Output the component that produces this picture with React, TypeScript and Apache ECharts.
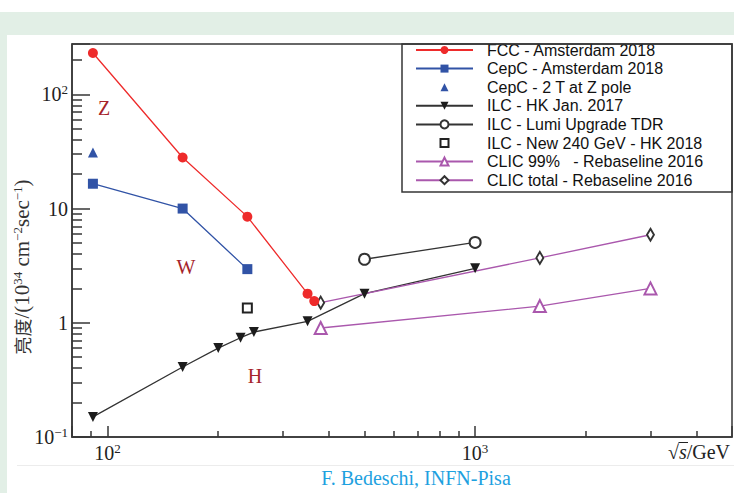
import React, { useEffect, useRef } from 'react';
import * as echarts from 'echarts';

// ---------- data ----------
const fccX = [91.2, 160, 240, 350, 365];
const fccY = [230, 28, 8.5, 1.8, 1.55];
const cepcX = [91.2, 160, 240];
const cepcY = [16.5, 10, 2.95];
const cepc2TX = [91.2];
const cepc2TY = [31];
const ilcX = [91.2, 160, 200, 230, 250, 350, 500, 1000];
const ilcY = [0.15, 0.41, 0.6, 0.74, 0.83, 1.03, 1.8, 3.0];
const ilcLumiX = [500, 1000];
const ilcLumiY = [3.6, 5.05];
const ilc240X = [240];
const ilc240Y = [1.35];
const clic99X = [380, 1500, 3000];
const clic99Y = [0.9, 1.4, 2.0];
const clicTotX = [380, 1500, 3000];
const clicTotY = [1.5, 3.7, 5.9];

const seriesNames = [
  'FCC - Amsterdam 2018',
  'CepC - Amsterdam 2018',
  'CepC - 2 T at Z pole',
  'ILC - HK Jan. 2017',
  'ILC - Lumi Upgrade TDR',
  'ILC - New 240 GeV - HK 2018',
  'CLIC 99%   - Rebaseline 2016',
  'CLIC total - Rebaseline 2016',
];

const xTickValues = [100, 1000];
const xTickLabels = ['{b|10}{s|2}', '{b|10}{s|3}'];
const yTickValues = [0.1, 1, 10, 100];
const yTickLabels = ['{b|10}{s|\u22121}', '{b|1}', '{b|10}', '{b|10}{s|2}'];

const regionLabels = ['Z', 'W', 'H'];

const zip = (xs: number[], ys: number[]) => xs.map((x, i) => [x, ys[i]]);

const RED = '#ee2b2b';
const BLUE = '#3153a6';
const BLACK = '#1c1c1c';
const PURPLE = '#aa58ad';
const AX = '#363636';
const DARKRED = '#a6242b';
const SERIF = '"Liberation Serif", "DejaVu Serif", serif';
const SANS = '"Liberation Sans", Arial, sans-serif';

const labelFor = (vals: number[], labels: string[]) => (v: number) => {
  const i = vals.findIndex((t) => Math.abs(Math.log10(v) - Math.log10(t)) < 1e-6);
  return i >= 0 ? labels[i] : '';
};

const richTick = {
  b: { fontFamily: SERIF, fontSize: 20, color: '#222', lineHeight: 22 },
  s: { fontFamily: SERIF, fontSize: 13, color: '#222', verticalAlign: 'top' as const, lineHeight: 14 },
};

const noLine = { width: 0, opacity: 0 };

export default function App() {
  const ref = useRef<HTMLDivElement>(null);
  useEffect(() => {
    if (!ref.current) return;
    const chart = echarts.init(ref.current, null, { renderer: 'svg' });
    const lw = 1.3;
    const option: any = {
      animation: false,
      backgroundColor: 'transparent',
      grid: {
        left: 72, right: 2, top: 44, bottom: 56,
        show: true, borderColor: AX, borderWidth: 1.5,
        containLabel: false, outerBoundsMode: 'none',
      },
      legend: {
        orient: 'vertical', left: 415, top: 42, padding: 0,
        itemWidth: 57, itemHeight: 10, itemGap: 2.6,
        selectedMode: false,
        textStyle: { fontFamily: SANS, fontSize: 16, color: '#111', padding: [0, 0, 0, 9] },
        data: seriesNames,
      },
      xAxis: {
        type: 'log', logBase: 10, min: 80, max: 5000,
        axisLine: { show: true, lineStyle: { color: AX, width: 1.5 } },
        axisTick: { show: true, inside: true, length: 11, lineStyle: { color: AX, width: 1.5 } },
        minorTick: { show: true, splitNumber: 9, length: 6, lineStyle: { color: AX, width: 1.5 } },
        splitLine: { show: false }, minorSplitLine: { show: false },
        axisLabel: {
          margin: 5, fontFamily: SERIF, fontSize: 20, color: '#222',
          formatter: labelFor(xTickValues, xTickLabels), rich: richTick,
        },
      },
      yAxis: {
        type: 'log', logBase: 10, min: 0.1, max: 276,
        axisLine: { show: true, lineStyle: { color: AX, width: 1.5 } },
        axisTick: { show: true, inside: true, length: 18, lineStyle: { color: AX, width: 1.5 } },
        minorTick: { show: true, splitNumber: 9, length: 10, lineStyle: { color: AX, width: 1.5 } },
        splitLine: { show: false }, minorSplitLine: { show: false },
        axisLabel: {
          margin: 4, fontFamily: SERIF, fontSize: 20, color: '#222', showMinLabel: true,
          formatter: labelFor(yTickValues, yTickLabels), rich: richTick,
        },
      },
      series: [
        {
          name: seriesNames[0], type: 'line', data: zip(fccX, fccY), z: 6,
          symbol: 'circle', symbolSize: 10,
          itemStyle: { color: RED }, lineStyle: { color: RED, width: lw },
        },
        {
          name: seriesNames[1], type: 'line', data: zip(cepcX, cepcY),
          symbol: 'rect', symbolSize: 10,
          itemStyle: { color: BLUE }, lineStyle: { color: BLUE, width: lw },
        },
        {
          name: seriesNames[2], type: 'line', data: zip(cepc2TX, cepc2TY),
          symbol: 'triangle', symbolSize: 10, showSymbol: true,
          itemStyle: { color: BLUE }, lineStyle: noLine,
        },
        {
          name: seriesNames[3], type: 'line', data: zip(ilcX, ilcY),
          symbol: 'triangle', symbolRotate: 180, symbolSize: 10,
          itemStyle: { color: BLACK }, lineStyle: { color: '#333', width: lw },
        },
        {
          name: seriesNames[4], type: 'line', data: zip(ilcLumiX, ilcLumiY),
          symbol: 'emptyCircle', symbolSize: 11,
          itemStyle: { color: '#333', borderWidth: 1.3 }, lineStyle: { color: '#333', width: lw },
        },
        {
          name: seriesNames[5], type: 'line', data: zip(ilc240X, ilc240Y),
          symbol: 'emptyRect', symbolSize: 9, showSymbol: true,
          itemStyle: { color: '#222', borderWidth: 1.6 }, lineStyle: noLine,
        },
        {
          name: seriesNames[6], type: 'line', data: zip(clic99X, clic99Y),
          symbol: 'emptyTriangle', symbolSize: 12,
          itemStyle: { color: PURPLE, borderWidth: 1.5 }, lineStyle: { color: PURPLE, width: lw },
        },
        {
          name: seriesNames[7], type: 'line', data: zip(clicTotX, clicTotY),
          symbol: 'emptyDiamond', symbolSize: [7, 12],
          itemStyle: { color: '#333', borderWidth: 1.3 }, lineStyle: { color: PURPLE, width: lw },
        },
      ],
      graphic: [
        {
          type: 'rect', silent: true, z: 10,
          shape: { x: 402, y: 44, width: 330, height: 148 },
          style: { fill: 'none', stroke: AX, lineWidth: 1.5 },
        },
        {
          type: 'text', x: 104, y: 108, silent: true,
          style: { text: regionLabels[0], font: `20px ${SERIF}`, fill: DARKRED, align: 'center', verticalAlign: 'middle' },
        },
        {
          type: 'text', x: 186, y: 267, silent: true,
          style: { text: regionLabels[1], font: `20px ${SERIF}`, fill: DARKRED, align: 'center', verticalAlign: 'middle' },
        },
        {
          type: 'text', x: 255, y: 376, silent: true,
          style: { text: regionLabels[2], font: `20px ${SERIF}`, fill: DARKRED, align: 'center', verticalAlign: 'middle' },
        },
        {
          type: 'text', x: 22, y: 267, rotation: Math.PI / 2, silent: true,
          style: {
            text: '{c|亮度}{r|/(10}{s|34}{r| cm}{s|\u22122}{r|sec}{s|\u22121}{r|)}',
            align: 'center', verticalAlign: 'middle',
            rich: {
              c: { fontFamily: '"Noto Sans CJK SC", sans-serif', fontSize: 18, fill: '#333', lineHeight: 22 },
              r: { fontFamily: SERIF, fontSize: 21, fill: '#333', lineHeight: 22 },
              s: { fontFamily: SERIF, fontSize: 13, fill: '#333', verticalAlign: 'top', lineHeight: 14 },
            },
          },
        },
        {
          type: 'text', x: 730, y: 452, silent: true,
          style: {
            text: '{r|\u221A}{i|s}{r|/GeV}',
            align: 'right', verticalAlign: 'middle',
            rich: {
              r: { fontFamily: SERIF, fontSize: 20, fill: '#222' },
              i: { fontFamily: SERIF, fontSize: 20, fontStyle: 'italic', fill: '#222' },
            },
          },
        },
        {
          type: 'line', silent: true,
          shape: { x1: 678.5, y1: 442.5, x2: 688, y2: 442.5 },
          style: { stroke: '#222', lineWidth: 1 },
        },
        {
          type: 'text', x: 416, y: 478, silent: true,
          style: { text: 'F. Bedeschi, INFN-Pisa', font: `20px ${SERIF}`, fill: '#1ea1df', align: 'center', verticalAlign: 'middle' },
        },
      ],
    };
    chart.setOption(option);
    return () => chart.dispose();
  }, []);

  return (
    <div style={{ position: 'absolute', left: 0, top: 0, width: 734, height: 493, background: '#fff', overflow: 'hidden' }}>
      <div style={{ position: 'absolute', left: 0, top: 12, width: 734, height: 23, background: '#e2efe6' }} />
      <div style={{ position: 'absolute', left: 0, top: 35, width: 7, height: 458, background: '#e2efe6' }} />
      <div style={{ position: 'absolute', left: 17, top: 465, width: 717, height: 1, background: '#ececec' }} />
      <div ref={ref} style={{ position: 'absolute', left: 0, top: 0, width: 734, height: 493 }} />
    </div>
  );
}
